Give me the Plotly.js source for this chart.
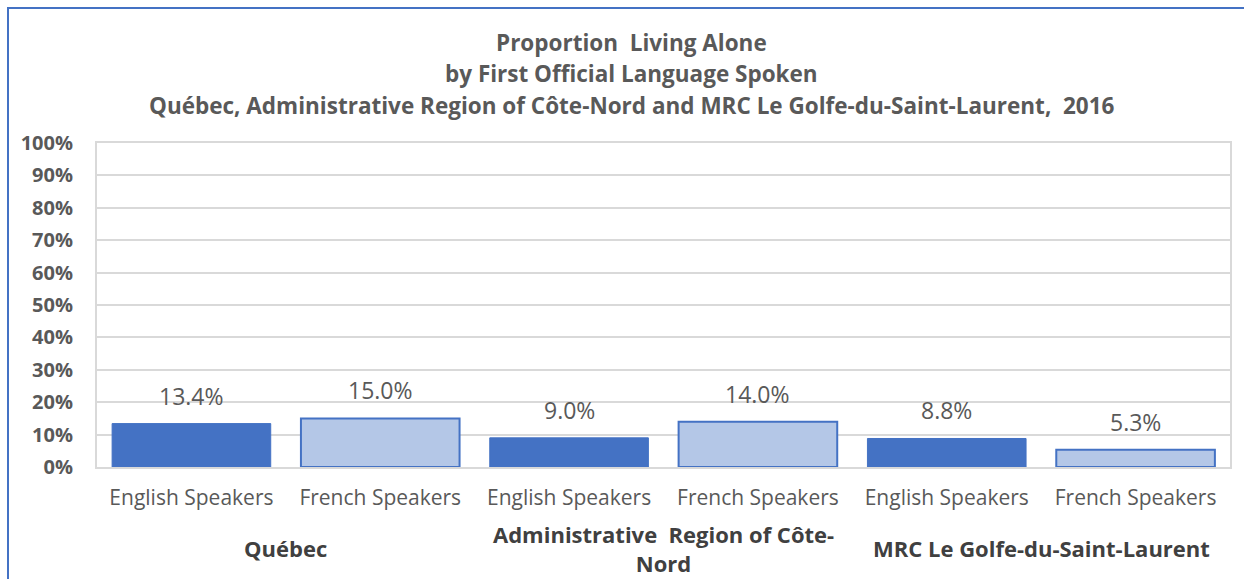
<!DOCTYPE html>
<html><head><meta charset="utf-8">
<script src="https://cdn.plot.ly/plotly-3.0.1.min.js"></script>
<style>
html,body{margin:0;padding:0;background:#fff;}
#wrap{position:relative;width:1244px;height:579px;overflow:hidden;}
#chart{position:absolute;left:0;top:0;width:1244px;height:579px;}
#bt{position:absolute;left:7px;top:7px;width:1237px;height:2px;background:#4472C4;}
#bl{position:absolute;left:7px;top:7px;width:2px;height:572px;background:#4472C4;}
</style></head><body>
<div id="wrap"><div id="chart"></div><div id="bt"></div><div id="bl"></div></div>
<script>
const regions = ["Québec", "Administrative  Region of Côte-<br>Nord", "MRC Le Golfe-du-Saint-Laurent"];
const speakers = ["English Speakers", "French Speakers"];
const englishValues = [13.4, 9.0, 8.8];
const frenchValues = [15.0, 14.0, 5.3];
const yTickLabels = ["0%","10%","20%","30%","40%","50%","60%","70%","80%","90%","100%"];
const titleLines = ["Proportion  Living Alone", "by First Official Language Spoken", "Québec, Administrative Region of Côte-Nord and MRC Le Golfe-du-Saint-Laurent,  2016"];

const FONT = "Open Sans, sans-serif";
const GRAY = "#595959";

const xEn = regions.map((r,i)=>2*i);
const xFr = regions.map((r,i)=>2*i+1);
const tickvals = [], ticktext = [];
regions.forEach((r,i)=>{ tickvals.push(2*i, 2*i+1); ticktext.push(speakers[0], speakers[1]); });

const traces = [
  {type:'bar', x:xEn, y:englishValues, marker:{color:'#4472C4', line:{color:'#4472C4', width:1}}, hoverinfo:'y'},
  {type:'bar', x:xFr, y:frenchValues, marker:{color:'#B4C7E7', line:{color:'#4472C4', width:2}}, hoverinfo:'y'}
];

const annotations = [];
const lblFont = {family:FONT, size:23, color:GRAY};
xEn.forEach((x,i)=>annotations.push({x:x, y:englishValues[i], xref:'x', yref:'y', text:englishValues[i].toFixed(1)+'%', showarrow:false, yanchor:'middle', yshift:28, font:lblFont}));
xFr.forEach((x,i)=>annotations.push({x:x, y:frenchValues[i], xref:'x', yref:'y', text:frenchValues[i].toFixed(1)+'%', showarrow:false, yanchor:'middle', yshift:28, font:lblFont}));
regions.forEach((r,i)=>annotations.push({x:2*i+0.5, y:-0.25, xref:'x', yref:'paper', text:'<b>'+r+'</b>', showarrow:false, yanchor:'middle', align:'center', font:{family:FONT, size:22, color:'#404040'}}));
const titleY = [1.3117, 1.216, 1.117];
titleLines.forEach((t,i)=>annotations.push({x:0.472, y:titleY[i], xref:'paper', yref:'paper', text:'<b>'+t+'</b>', showarrow:false, yanchor:'middle', font:{family:FONT, size:22.5, color:GRAY}}));

const layout = {
  width:1244, height:579,
  margin:{l:97, r:14, t:143, b:112},
  paper_bgcolor:'#fff', plot_bgcolor:'#fff',
  showlegend:false,
  bargap:0.16,
  xaxis:{type:'linear', range:[-0.5,5.5], tickvals:tickvals, ticktext:ticktext, showgrid:false, zeroline:false,
    showline:true, mirror:true, linecolor:'#D9D9D9', linewidth:2,
    ticks:'outside', ticklen:11, tickcolor:'rgba(0,0,0,0)',
    tickfont:{family:FONT, size:21, color:GRAY}},
  yaxis:{range:[0,100], tickvals:[0,10,20,30,40,50,60,70,80,90,100], ticktext:yTickLabels,
    showgrid:true, gridcolor:'#D9D9D9', gridwidth:2, zeroline:false,
    showline:true, mirror:true, linecolor:'#D9D9D9', linewidth:2,
    ticks:'outside', ticklen:18, tickcolor:'rgba(0,0,0,0)',
    tickfont:{family:FONT, size:20, color:GRAY, weight:'bold'}},
  annotations:annotations
};
Plotly.newPlot('chart', traces, layout, {displayModeBar:false, staticPlot:true});
</script></body></html>
